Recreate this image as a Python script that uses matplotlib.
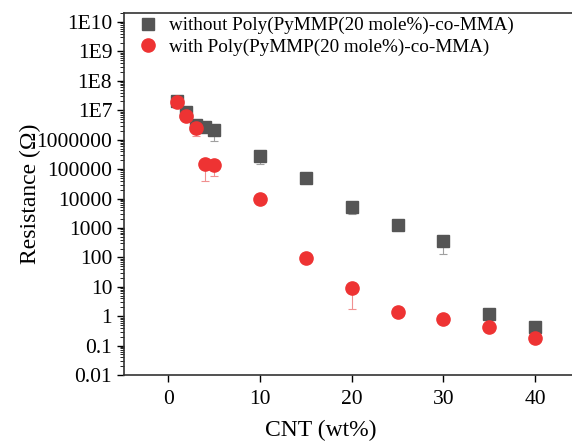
import numpy as np
import matplotlib.pyplot as plt
from matplotlib.ticker import FixedLocator, LogLocator, NullFormatter

plt.rcParams['font.family'] = ['Liberation Serif', 'DejaVu Serif']

# CNT loading (wt%)
cnt = [1, 2, 3, 4, 5, 10, 15, 20, 25, 30, 35, 40]

# resistance without the copolymer (grey squares)
r_without = [2.0e7, 9.0e6, 3.2e6, 2.8e6, 2.2e6, 2.8e5, 5.0e4, 5.0e3, 1.3e3, 350, 1.2, 0.42]
low_without = [0, 0, 0, 0, 1.3e6, 1.3e5, 0, 2.0e3, 0, 220, 0, 0]

# resistance with Poly(PyMMP(20 mole%)-co-MMA) (red circles)
r_with = [1.9e7, 6.5e6, 2.5e6, 1.5e5, 1.35e5, 1.0e4, 95, 9, 1.4, 0.8, 0.42, 0.18]
low_with = [0, 0, 1.2e6, 1.1e5, 7.5e4, 0, 0, 7.2, 0, 0, 0, 0]

ytick_vals = [1e-2, 1e-1, 1, 10, 100, 1e3, 1e4, 1e5, 1e6, 1e7, 1e8, 1e9, 1e10]
ytick_labels = ['0.01', '0.1', '1', '10', '100', '1000', '10000', '100000',
                '1000000', '1E7', '1E8', '1E9', '1E10']
xtick_vals = [0, 10, 20, 30, 40]

fig = plt.figure(figsize=(5.72, 4.47), dpi=100)
ax = fig.add_axes([0.2168, 0.161, 0.7832, 0.81])

ax.errorbar(cnt, r_without, yerr=[low_without, [0] * len(cnt)], fmt='none',
            ecolor='#a0a0a0', elinewidth=0.8, capsize=3, capthick=0.8, zorder=2)
ax.errorbar(cnt, r_with, yerr=[low_with, [0] * len(cnt)], fmt='none',
            ecolor='#f09090', elinewidth=0.8, capsize=3, capthick=0.8, zorder=2)

ax.plot(cnt, r_without, 's', color='#555555', markersize=9, linestyle='none',
        label='without Poly(PyMMP(20 mole%)-co-MMA)', zorder=3)
ax.plot(cnt, r_with, 'o', color='#ee3333', markersize=9.5, linestyle='none',
        label='with Poly(PyMMP(20 mole%)-co-MMA)', zorder=4)

ax.set_yscale('log')
ax.set_xlim(-4.8, 44)
ax.set_ylim(0.01, 10 ** 10.31)

ax.yaxis.set_major_locator(FixedLocator(ytick_vals))
ax.set_yticklabels(ytick_labels)
ax.yaxis.set_minor_locator(LogLocator(base=10, subs=np.arange(2, 10), numticks=100))
ax.yaxis.set_minor_formatter(NullFormatter())
ax.set_xticks(xtick_vals)

ax.tick_params(axis='both', which='major', labelsize=15.5, length=5, width=1, direction='out')
ax.tick_params(axis='x', which='major', pad=6)
ax.tick_params(axis='y', which='minor', length=3, width=0.6, direction='out')

ax.spines['right'].set_visible(False)
for s in ['left', 'bottom', 'top']:
    ax.spines[s].set_linewidth(1.2)
    ax.spines[s].set_color('#333333')

ax.set_xlabel('CNT (wt%)', fontsize=17)
ax.xaxis.set_label_coords(0.44, -0.125)
ax.set_ylabel('Resistance (\u03a9)', fontsize=17)
ax.yaxis.set_label_coords(-0.185, 0.5)

ax.legend(loc='upper left', frameon=False, fontsize=13.8, handletextpad=0.5,
          borderaxespad=0.0, labelspacing=0.2, handlelength=1.2, bbox_to_anchor=(0.01, 1.01))

fig.savefig('out.png', dpi=100)
